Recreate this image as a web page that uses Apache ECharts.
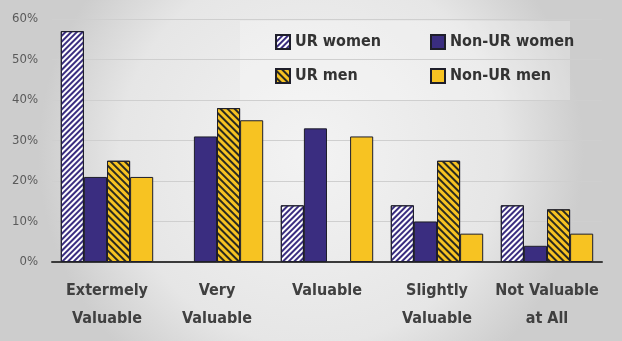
<!DOCTYPE html>
<html>
<head>
<meta charset="utf-8">
<script src="https://cdn.jsdelivr.net/npm/echarts@6/dist/echarts.min.js"></script>
<style>
  html, body { margin: 0; padding: 0; }
  #chart { width: 622px; height: 341px; }
</style>
</head>
<body>
<div id="chart"></div>
<script>
const categories = ['Extermely\nValuable', 'Very\nValuable', 'Valuable', 'Slightly\nValuable', 'Not Valuable\nat All'];
const urWomen = [57, 0, 14, 14, 14];
const nonUrWomen = [21, 31, 33, 10, 4];
const urMen = [25, 38, 0, 25, 13];
const nonUrMen = [21, 35, 31, 7, 7];
const yTicks = [0, 10, 20, 30, 40, 50, 60];

const purple = '#3a2d80';
const gold = '#f7c322';
const font = '"Liberation Sans Narrow", "DejaVu Sans Condensed", Roboto, sans-serif';

const chart = echarts.init(document.getElementById('chart'));

function barSeries(name, data, color, decal) {
  const s = {
    name,
    type: 'bar',
    // 0 = no bar drawn in the original
    data: data.map(v => (v === 0 ? '-' : v)),
    barGap: '0%',
    barCategoryGap: '16%',
    itemStyle: { color, borderColor: '#1e1e2a', borderWidth: 1 },
  };
  if (decal) s.itemStyle.decal = decal;
  return s;
}

const legendText = { fontSize: 16, fontWeight: 'bold', color: '#333', fontFamily: font };

const option = {
  backgroundColor: new echarts.graphic.RadialGradient(0.5, 0.45, 0.8, [
    { offset: 0, color: '#f3f3f3' },
    { offset: 0.7, color: '#e6e6e6' },
    { offset: 1, color: '#cdcdcd' },
  ]),
  textStyle: { fontFamily: font },
  graphic: [{
    type: 'rect',
    z: 0,
    shape: { x: 240, y: 21, width: 330, height: 79 },
    style: { fill: 'rgba(255,255,255,0.25)' },
  }],
  legend: [
    {
      data: ['UR women', 'UR men'],
      orient: 'vertical',
      left: 270,
      top: 29,
      itemGap: 18,
      itemWidth: 14,
      itemHeight: 14,
      icon: 'rect',
      textStyle: legendText,
    },
    {
      data: ['Non-UR women', 'Non-UR men'],
      orient: 'vertical',
      left: 425,
      top: 29,
      itemGap: 18,
      itemWidth: 14,
      itemHeight: 14,
      icon: 'rect',
      textStyle: legendText,
    },
  ],
  grid: { left: 52, right: 20, top: 19, bottom: 79 },
  xAxis: {
    type: 'category',
    data: categories,
    axisLine: { lineStyle: { color: '#3a3a3a', width: 2 } },
    axisTick: { show: false },
    axisLabel: {
      color: '#404040',
      fontSize: 16,
      fontWeight: 'bold',
      lineHeight: 28,
      margin: 15,
      interval: 0,
      fontFamily: font,
    },
  },
  yAxis: {
    type: 'value',
    min: yTicks[0],
    max: yTicks[yTicks.length - 1],
    interval: 10,
    axisLine: { show: false },
    axisTick: { show: false },
    splitLine: { lineStyle: { color: '#cfcfcf', width: 1 } },
    axisLabel: { color: '#5a5a5a', fontSize: 13, formatter: '{value}%', margin: 14, fontFamily: font },
  },
  series: [
    barSeries('UR women', urWomen, '#ffffff', {
      symbol: 'rect', color: purple, dashArrayX: [1, 0], dashArrayY: [2, 2], rotation: -Math.PI / 4,
    }),
    barSeries('Non-UR women', nonUrWomen, purple),
    barSeries('UR men', urMen, gold, {
      symbol: 'rect', color: '#2a2a20', dashArrayX: [1, 0], dashArrayY: [1.5, 2.5], rotation: Math.PI / 4,
    }),
    barSeries('Non-UR men', nonUrMen, gold),
  ],
};

chart.setOption(option);
</script>
</body>
</html>
